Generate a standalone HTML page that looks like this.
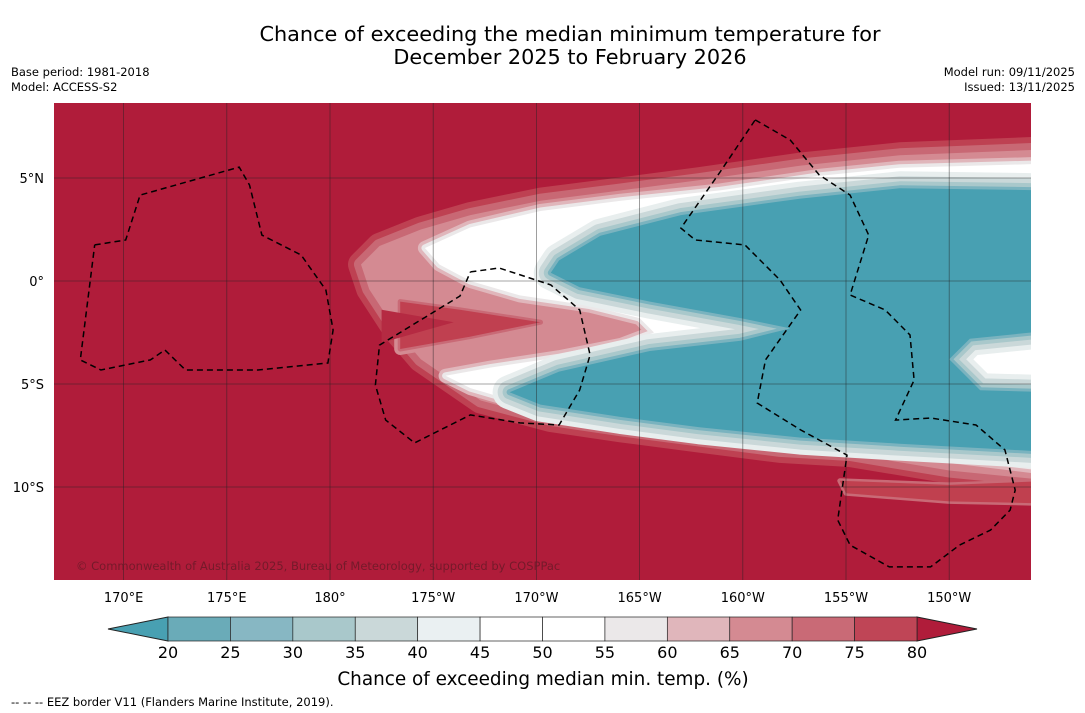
<!DOCTYPE html>
<html><head><meta charset="utf-8"><style>
body{margin:0;background:#fff;font-family:"DejaVu Sans",sans-serif;}
#wrap{position:relative;width:1085px;height:713px;overflow:hidden;background:#fff;}
</style></head><body>
<div id="wrap">
<svg id="svg" width="1085" height="713" xmlns="http://www.w3.org/2000/svg" font-family="DejaVu Sans, sans-serif">
<text x="570" y="41" text-anchor="middle" font-size="20.8" fill="#000">Chance of exceeding the median minimum temperature for</text>
<text x="570" y="64" text-anchor="middle" font-size="20.8" fill="#000">December 2025 to February 2026</text>
<text x="11" y="76" font-size="11.5">Base period: 1981-2018</text>
<text x="11" y="91" font-size="11.5">Model: ACCESS-S2</text>
<text x="1075" y="76" font-size="11.5" text-anchor="end">Model run: 09/11/2025</text>
<text x="1075" y="91" font-size="11.5" text-anchor="end">Issued: 13/11/2025</text>
<defs><clipPath id="mc"><rect x="54" y="103" width="977" height="477"/></clipPath></defs>
<g id="map" clip-path="url(#mc)">
<rect x="54" y="103" width="977" height="477" fill="#b01c3a"/>
</g>
<g id="axes"></g>
<g id="cbar"></g>
<text x="543" y="685" text-anchor="middle" font-size="18.4">Chance of exceeding median min. temp. (%)</text>
<text x="11" y="706" font-size="11.5">--  --  -- EEZ border V11 (Flanders Marine Institute, 2019).</text>
</svg>
</div>
<script>
const lonTicks=[170,175,180,185,190,195,200,205,210];
const lonLabels=["170°E","175°E","180°","175°W","170°W","165°W","160°W","155°W","150°W"];
const latTicks=[5,0,-5,-10];
const latLabels=["5°N","0°","5°S","10°S"];
const cbLevels=[20,25,30,35,40,45,50,55,60,65,70,75,80];
const cbColors=["#6aabb8","#87b7c3","#a9c8cb","#cad8d9","#eaf0f2","#ffffff","#ffffff","#ebe8e9","#e0b6bb","#d48a92","#c96a76","#bf4556"];
const outerPlume=[[181.5,0.8],[182.4,1.7],[184.4,2.5],[186.8,3.2],[190.2,3.9],[194.1,4.4],[197.9,4.9],[202.8,5.6],[207.6,6.1],[215,6.4],[215,-9.7],[210,-9.2],[205.2,-8.4],[201.8,-8.2],[197.9,-7.7],[194.1,-7.2],[190.7,-6.7],[187.3,-5.8],[184.4,-3.8],[183.2,-2.4],[181.9,-0.4]];
const whiteBand=[[184.6,1.6],[186.8,2.6],[190.2,3.4],[194.1,3.9],[198.9,4.4],[203.7,5.1],[207.6,5.5],[215,5.7],[215,-9.1],[207.6,-8.2],[201.8,-7.7],[197.9,-7.2],[194.1,-6.7],[190.2,-6.2],[186.8,-5.2],[185.6,-4.6],[187.8,-4.2],[191.1,-3.7],[194.1,-3.1],[195.7,-2.5],[195,-1.8],[192.6,-1.2],[189.2,-0.7],[186.8,0],[185.3,0.8]];
const tealCore=[[191.1,1],[193.1,2.2],[197,3.2],[202.8,4],[207.6,4.5],[215,4.4],[215,-2.4],[211,-2.8],[210,-3.8],[211.5,-5.3],[215,-5.4],[215,-8.3],[207.6,-7.9],[202.8,-7.6],[197.9,-7.1],[194.1,-6.6],[190.2,-6],[188.7,-5.4],[191.1,-4.4],[195.5,-3.4],[199.9,-2.9],[202.3,-2.3],[199.9,-1.8],[195.5,-1],[192.1,-0.3],[190.7,0.4]];
const pinkTongue=[[183.4,-1.0],[186.3,-1.4],[190.2,-2],[186.8,-2.7],[183.4,-3.3]];
const redCore=[[182.5,-1.4],[186,-2.0],[182.5,-3.0]];
const pinkSouth=[[204.7,-9.7],[210,-9.9],[215,-9.7],[215,-10.8],[210,-10.7],[205,-10.3]];
const eezWest=[[168.6,1.75],[170.1,1.99],[170.8,4.17],[175.6,5.53],[176.1,4.66],[176.7,2.23],[178.6,1.26],[179.8,-0.44],[180.15,-2.38],[179.9,-3.98],[176.5,-4.32],[173,-4.32],[172,-3.35],[171.3,-3.83],[168.9,-4.32],[167.9,-3.83],[168.6,1.75]];
const eezMid=[[186.8,0.44],[188.2,0.63],[190.7,-0.19],[192.1,-1.41],[192.6,-3.59],[192.1,-5.29],[191.1,-6.99],[189.2,-6.89],[186.8,-6.5],[184.1,-7.86],[182.7,-6.75],[182.2,-5.05],[182.4,-3.11],[184.4,-1.89],[186.3,-0.73],[186.8,0.44]];
const eezEast=[[200.6,7.82],[202.3,6.84],[203.7,5.15],[205.2,4.17],[206.1,2.23],[205.2,-0.68],[206.9,-1.41],[208.1,-2.62],[208.3,-4.81],[207.4,-6.75],[209.1,-6.65],[211.3,-6.99],[212.7,-8.2],[213.2,-10.15],[212.95,-11.12],[212,-12.09],[210.5,-12.82],[209.1,-13.88],[207.1,-13.88],[205.2,-12.82],[204.6,-11.6],[205.05,-8.45],[202.8,-7.23],[200.7,-5.92],[201.1,-3.83],[202.8,-1.41],[201.8,0.05],[200.1,1.75],[197.7,1.99],[197,2.57],[198.9,5.29],[200.6,7.82]];

const NS="http://www.w3.org/2000/svg";
const X=lon=>330+(lon-180)*20.64;
const Y=lat=>281-lat*20.6;
const CB=v=>168+(v-20)*(917-168)/60;
function mk(tag,attrs,parent){const e=document.createElementNS(NS,tag);for(const k in attrs)e.setAttribute(k,attrs[k]);parent.appendChild(e);return e;}
const map=document.getElementById('map'),axes=document.getElementById('axes'),cbar=document.getElementById('cbar');
const pts=a=>a.map(p=>X(p[0]).toFixed(1)+','+Y(p[1]).toFixed(1)).join(' ');
function layer(arr,layers,name){
  layers.forEach(([c,w])=>{
    const e=mk('polygon',{points:pts(arr),fill:c,stroke:w?c:'none','stroke-width':w,'stroke-linejoin':'round'},map);
    
    
  });
}
layer(outerPlume,[["#be4152",26],["#c86874",14],["#d48a92",0]],'plume-outer');
layer(whiteBand,[["#e0b6bb",14],["#ebe8e9",7],["#ffffff",0]],'plume-white-band');
layer(pinkTongue,[["#d48a92",12],["#c96a76",5],["#c04050",0]],'plume-pink-tongue');
layer(redCore,[["#b52a42",0]],'plume-red-core');
layer(tealCore,[["#e8eeee",34],["#cad8d9",24],["#a9c8cb",14],["#7ab3bf",6],["#48a0b2",0]],'teal-region');
layer(pinkSouth,[["#c96a76",5],["#c0404f",0]],'pink-south-region');
lonTicks.forEach(l=>{const e=mk('line',{x1:X(l),x2:X(l),y1:103,y2:580,stroke:'#222','stroke-opacity':0.55,'stroke-width':0.8},map);
  });
latTicks.forEach(l=>{const e=mk('line',{x1:54,x2:1031,y1:Y(l),y2:Y(l),stroke:'#222','stroke-opacity':0.55,'stroke-width':0.8},map);
  });
[[eezWest,'eez-border-west'],[eezMid,'eez-border-middle'],[eezEast,'eez-border-east']].forEach(([a,n])=>{
  const e=mk('polyline',{points:pts(a),fill:'none',stroke:'#000','stroke-width':1.5,'stroke-dasharray':'6,4'},map);
  });
const cp=mk('text',{x:76,y:570,'font-size':11.5,fill:'#6a1a28','fill-opacity':0.85},map);
cp.textContent='© Commonwealth of Australia 2025, Bureau of Meteorology, supported by COSPPac';

lonTicks.forEach((l,i)=>{const t=mk('text',{x:X(l),y:602,'text-anchor':'middle','font-size':13},axes);t.textContent=lonLabels[i];
  });
latTicks.forEach((l,i)=>{const t=mk('text',{x:44,y:Y(l)+5,'text-anchor':'end','font-size':13},axes);t.textContent=latLabels[i];
  });
let lt=mk('polygon',{points:`108,629 ${CB(20)},617 ${CB(20)},641`,fill:'#48a0b2',stroke:'#222','stroke-width':1},cbar);

let rt=mk('polygon',{points:`977,629 ${CB(80)},617 ${CB(80)},641`,fill:'#b01c3a',stroke:'#222','stroke-width':1},cbar);

cbColors.forEach((c,i)=>{const r=mk('rect',{x:CB(cbLevels[i]),y:617,width:CB(cbLevels[i+1])-CB(cbLevels[i]),height:24,fill:c,stroke:'#222','stroke-width':0.7},cbar);
  });
cbLevels.forEach(v=>{const t=mk('text',{x:CB(v),y:658,'text-anchor':'middle','font-size':16},cbar);t.textContent=v;
  });
</script>
</body></html>
